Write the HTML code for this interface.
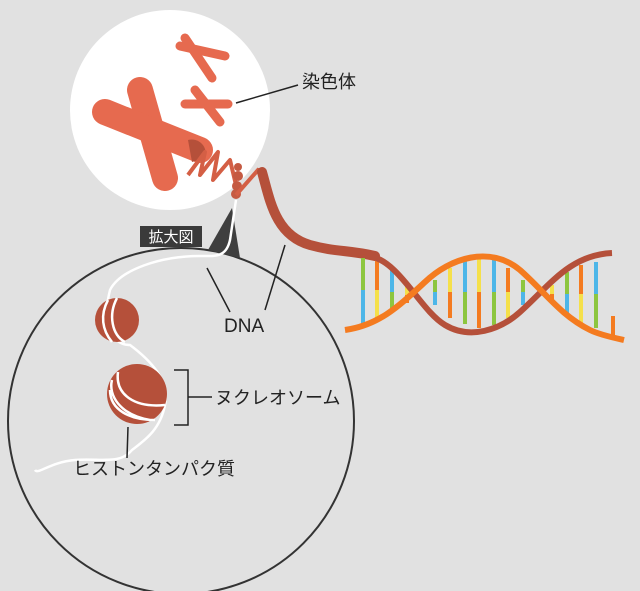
<!DOCTYPE html>
<html><head><meta charset="utf-8"><style>
html,body{margin:0;padding:0;background:#e1e1e1;}
svg{display:block}
text{font-family:"Liberation Sans","Noto Sans CJK JP",sans-serif;}
</style></head><body>
<svg width="640" height="591" viewBox="0 0 640 591">
<rect width="640" height="591" fill="#e1e1e1"/>
<!-- big circle -->
<circle cx="181" cy="421" r="173" fill="none" stroke="#333" stroke-width="2"/>
<!-- white circle -->
<circle cx="170" cy="110" r="100" fill="#fff"/>
<!-- big X chromosome -->
<g stroke="#e66a4f" stroke-linecap="round">
<line x1="140" y1="90" x2="165" y2="178" stroke-width="26"/>
<line x1="105" y1="112" x2="200" y2="150" stroke-width="26"/>
<line x1="180" y1="46" x2="225" y2="56" stroke-width="9"/>
<line x1="185" y1="38" x2="212" y2="78" stroke-width="9"/>
<line x1="185" y1="104" x2="228" y2="104" stroke-width="9"/>
<line x1="195" y1="90" x2="220" y2="122" stroke-width="9"/>
</g>
<path d="M188 140 A14 14 0 0 1 205 158 L192 162 Z" fill="#b5503a"/>
<!-- coil -->
<path d="M188 175 L205 152 L200 175 L218 152 L213 180 L230 160 L236 185" fill="none" stroke="#d45f45" stroke-width="4" stroke-linejoin="round"/>
<circle cx="238" cy="167" r="4" fill="#c55a42"/>
<circle cx="238" cy="176" r="5" fill="#c55a42"/>
<circle cx="237" cy="186" r="5" fill="#c55a42"/>
<circle cx="236" cy="194" r="5" fill="#c55a42"/>
<path d="M236 195 L258 170 L264 172" fill="none" stroke="#d45f45" stroke-width="4"/>
<!-- thick brown strand -->
<path d="M262 172 C270 200 275 235 310 245 C335 252 350 250 375 256" fill="none" stroke="#b5503a" stroke-width="10" stroke-linecap="round"/>
<!-- DNA rungs -->
<g stroke-width="4">
<line x1="363" y1="258" x2="363" y2="290" stroke="#8dc63f"/><line x1="363" y1="290" x2="363" y2="325" stroke="#4db6e8"/>
<line x1="377" y1="260" x2="377" y2="290" stroke="#f47b20"/><line x1="377" y1="290" x2="377" y2="320" stroke="#f5e04a"/>
<line x1="392" y1="268" x2="392" y2="292" stroke="#4db6e8"/><line x1="392" y1="292" x2="392" y2="312" stroke="#8dc63f"/>
<line x1="407" y1="282" x2="407" y2="295" stroke="#f5e04a"/><line x1="407" y1="295" x2="407" y2="303" stroke="#f47b20"/>
<line x1="435" y1="280" x2="435" y2="292" stroke="#8dc63f"/><line x1="435" y1="292" x2="435" y2="305" stroke="#4db6e8"/>
<line x1="450" y1="268" x2="450" y2="292" stroke="#f5e04a"/><line x1="450" y1="292" x2="450" y2="318" stroke="#f47b20"/>
<line x1="465" y1="260" x2="465" y2="292" stroke="#4db6e8"/><line x1="465" y1="292" x2="465" y2="324" stroke="#8dc63f"/>
<line x1="479" y1="256" x2="479" y2="292" stroke="#f5e04a"/><line x1="479" y1="292" x2="479" y2="328" stroke="#f47b20"/>
<line x1="494" y1="260" x2="494" y2="292" stroke="#4db6e8"/><line x1="494" y1="292" x2="494" y2="325" stroke="#8dc63f"/>
<line x1="508" y1="268" x2="508" y2="292" stroke="#f47b20"/><line x1="508" y1="292" x2="508" y2="318" stroke="#f5e04a"/>
<line x1="523" y1="280" x2="523" y2="292" stroke="#8dc63f"/><line x1="523" y1="292" x2="523" y2="305" stroke="#4db6e8"/>
<line x1="552" y1="285" x2="552" y2="294" stroke="#f5e04a"/><line x1="552" y1="294" x2="552" y2="303" stroke="#f47b20"/>
<line x1="567" y1="272" x2="567" y2="294" stroke="#8dc63f"/><line x1="567" y1="294" x2="567" y2="316" stroke="#4db6e8"/>
<line x1="581" y1="265" x2="581" y2="294" stroke="#f47b20"/><line x1="581" y1="294" x2="581" y2="323" stroke="#f5e04a"/>
<line x1="596" y1="262" x2="596" y2="294" stroke="#4db6e8"/><line x1="596" y1="294" x2="596" y2="328" stroke="#8dc63f"/>
<line x1="613" y1="316" x2="613" y2="335" stroke="#f47b20"/>
</g>
<!-- brown strand -->
<path d="M370 256 C400 262 420 310 445 325 C470 340 500 330 520 312 C550 285 570 255 612 253" fill="none" stroke="#b5503a" stroke-width="6"/>
<!-- orange strand -->
<path d="M345 330 C380 325 400 305 425 282 C450 258 490 245 520 270 C545 292 560 315 590 330 C600 335 615 338 624 340" fill="none" stroke="#f47b20" stroke-width="6"/>
<!-- zoom indicator -->
<polygon points="232,208 240,258 208,250" fill="#3f3f3f"/>
<rect x="140" y="226" width="62" height="21" fill="#3a3a3a"/>
<text x="171" y="242" font-size="15" fill="#fff" text-anchor="middle">拡大図</text>
<!-- white DNA in big circle -->
<path d="M236 200 L230 240 C226 258 215 256 200 256 C160 256 120 270 110 290 C100 330 115 345 130 345 C150 360 170 380 165 405 C160 430 145 440 132 450 C120 465 100 458 75 460 C50 462 38 475 35 470" fill="none" stroke="#fff" stroke-width="2.5"/>
<!-- nucleosomes -->
<circle cx="117" cy="320" r="22" fill="#b5503a"/>
<path d="M108 300 C100 315 102 330 112 342 M117 298 C108 315 112 335 125 342" stroke="#fff" stroke-width="2.5" fill="none"/>
<circle cx="137" cy="394" r="30" fill="#b5503a"/>
<path d="M112 380 C108 395 120 415 150 420 M118 372 C115 395 135 408 165 405 M110 390 C110 410 130 420 155 420" stroke="#fff" stroke-width="2.5" fill="none"/>
<!-- labels -->
<g stroke="#222" stroke-width="1.5" fill="none">
<line x1="236" y1="103" x2="298" y2="85"/>
<line x1="207" y1="268" x2="230" y2="312"/>
<line x1="265" y1="310" x2="285" y2="245"/>
<polyline points="174,370 188,370 188,425 174,425"/>
<line x1="188" y1="397" x2="212" y2="397"/>
<line x1="128" y1="427" x2="127" y2="458"/>
</g>
<text x="302" y="88" font-size="18" fill="#222">染色体</text>
<text x="224" y="332" font-size="19" fill="#222">DNA</text>
<text x="215" y="404" font-size="18" fill="#222">ヌクレオソーム</text>
<text x="73" y="475" font-size="18" fill="#222">ヒストンタンパク質</text>
</svg>
</body></html>
